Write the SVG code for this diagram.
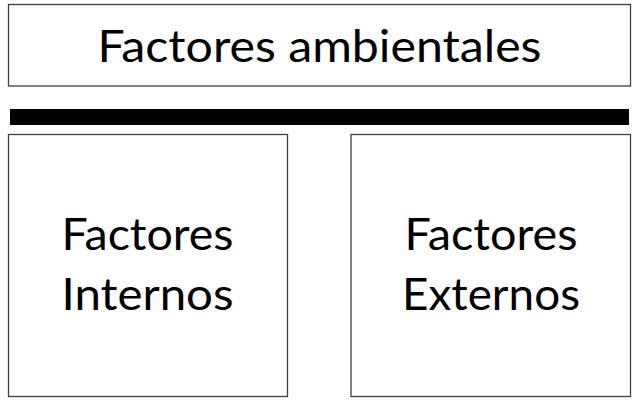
<svg xmlns="http://www.w3.org/2000/svg" width="640" height="407" viewBox="0 0 640 407">
<style>
.box{fill:#fff;stroke:#404040;stroke-width:1.3}
.t{font-family:Lato,"Open Sans",sans-serif;font-size:44px;fill:#000;text-anchor:middle}
</style>
<rect width="640" height="407" fill="#fff"/>
<g id="ambientales">
<rect class="box" x="8.5" y="4.5" width="622" height="81.5"/>
<text class="t" x="319.5" y="62" textLength="444" lengthAdjust="spacingAndGlyphs">Factores ambientales</text>
</g>
<g id="connectors">
<rect x="10" y="109" width="619" height="16" fill="#000"/>
</g>
<g id="internos">
<rect class="box" x="8.5" y="134.5" width="279" height="262"/>
<text class="t" x="147.5" y="250" textLength="172" lengthAdjust="spacingAndGlyphs">Factores</text>
<text class="t" x="147.5" y="310" textLength="172" lengthAdjust="spacingAndGlyphs">Internos</text>
</g>
<g id="externos">
<rect class="box" x="351" y="134.5" width="279.5" height="262"/>
<text class="t" x="491" y="250" textLength="173" lengthAdjust="spacingAndGlyphs">Factores</text>
<text class="t" x="491" y="310" textLength="178" lengthAdjust="spacingAndGlyphs">Externos</text>
</g>
</svg>
